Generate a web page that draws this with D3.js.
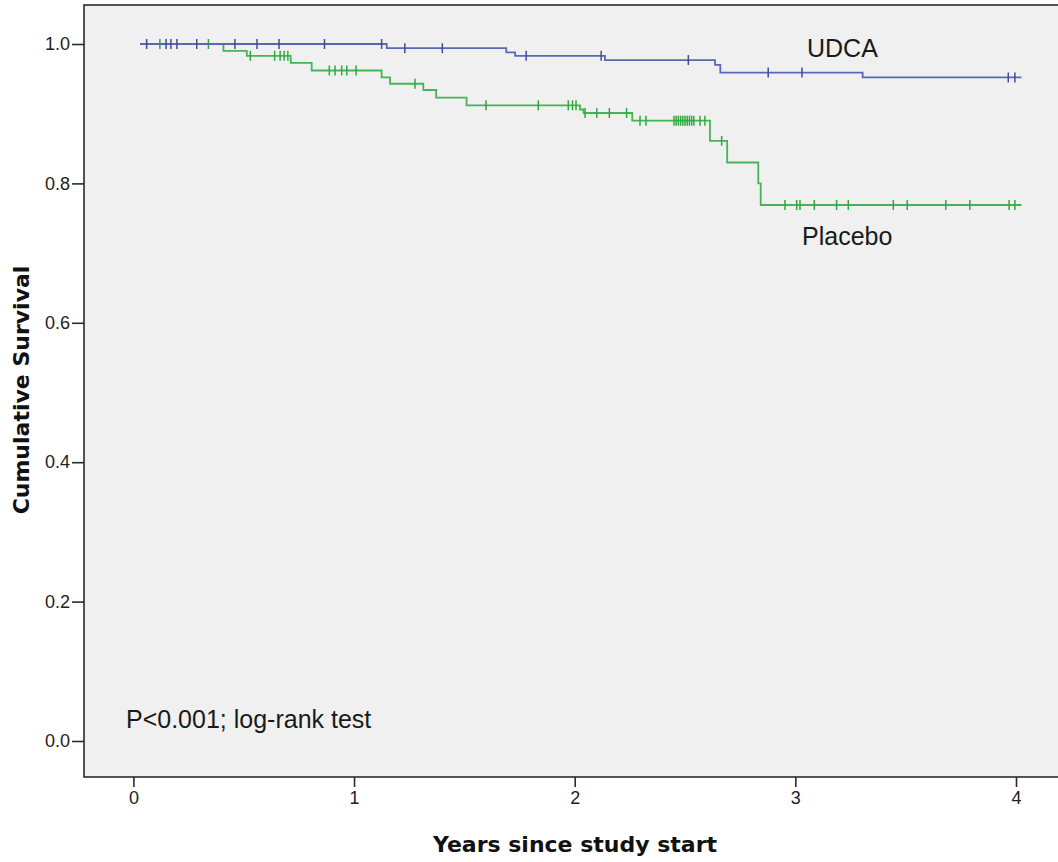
<!DOCTYPE html>
<html>
<head>
<meta charset="utf-8">
<script src="https://cdn.jsdelivr.net/npm/d3@7"></script>
<style>
  body { margin: 0; background: #fff; }
  svg { display: block; }
</style>
</head>
<body>
<div id="chart"></div>
<script>
// Kaplan-Meier steps: [time in years, survival after the drop]
var udcaStart = [0.03, 1.0];
var udcaSteps = [
  [1.148, 0.994], [1.69, 0.988], [1.73, 0.983], [2.137, 0.977],
  [2.636, 0.970], [2.66, 0.959], [3.305, 0.952]
];
var udcaEnd = 4.025;
var udcaCensored = [0.06, 0.148, 0.17, 0.197, 0.287, 0.46, 0.56, 0.66, 0.866,
  1.125, 1.23, 1.40, 1.78, 2.12, 2.515, 2.877, 3.03, 3.965, 3.995];

var placeboStart = [0.03, 1.0];
var placeboSteps = [
  [0.408, 0.990], [0.514, 0.983], [0.713, 0.973], [0.808, 0.962],
  [1.125, 0.952], [1.163, 0.943], [1.314, 0.934], [1.372, 0.923],
  [1.51, 0.912], [2.024, 0.906], [2.04, 0.901], [2.261, 0.890],
  [2.613, 0.861], [2.691, 0.830], [2.832, 0.800], [2.843, 0.769]
];
var placeboEnd = 4.025;
var placeboCensored = [0.12, 0.34, 0.53, 0.64, 0.665, 0.683, 0.70, 0.888, 0.914,
  0.944, 0.967, 1.009, 1.276, 1.598, 1.835, 1.971, 1.99, 2.006, 2.047, 2.10,
  2.157, 2.235, 2.296, 2.323, 2.45, 2.46, 2.47, 2.48, 2.49, 2.50, 2.51, 2.52,
  2.53, 2.54, 2.568, 2.59, 2.666, 2.953, 3.006, 3.021, 3.086, 3.187, 3.24,
  3.444, 3.507, 3.682, 3.791, 3.969, 3.995];

var xTicks = [0, 1, 2, 3, 4];
var yTicks = [0, 0.2, 0.4, 0.6, 0.8, 1.0];

var width = 1058, height = 862;
var frame = {left: 84, top: 5, bottom: 777};

var svg = d3.select('#chart').append('svg')
  .attr('width', width)
  .attr('height', height);

var x = d3.scaleLinear().domain([0, 4]).range([133.4, 1016]);
var y = d3.scaleLinear().domain([0, 1]).range([741, 44]);

// plot background
svg.append('rect')
  .attr('x', frame.left)
  .attr('y', frame.top)
  .attr('width', width + 20 - frame.left)
  .attr('height', frame.bottom - frame.top)
  .attr('fill', '#f0f0f0')
  .attr('stroke', '#2b2b2b')
  .attr('stroke-width', 1.6);

// turn step list into points of a survival curve
function kmPoints(start, steps, end) {
  var pts = [start];
  steps.forEach(function(s) { pts.push(s); });
  pts.push([end, steps[steps.length - 1][1]]);
  return pts;
}

// survival value at time t (value after any drop at t)
function survAt(start, steps, t) {
  var s = start[1];
  steps.forEach(function(d) { if (d[0] <= t) s = d[1]; });
  return s;
}

var line = d3.line()
  .x(d => x(d[0]))
  .y(d => y(d[1]))
  .curve(d3.curveStepAfter);

var groups = [
  {name: 'Placebo', start: placeboStart, steps: placeboSteps, end: placeboEnd,
   cens: placeboCensored, color: '#45b553', tick: '#2fa83f'},
  {name: 'UDCA', start: udcaStart, steps: udcaSteps, end: udcaEnd,
   cens: udcaCensored, color: '#5868b2', tick: '#3d4d9c'}
];

groups.forEach(function(g) {
  var pts = kmPoints(g.start, g.steps, g.end);
  svg.append('path')
    .attr('d', line(pts))
    .attr('fill', 'none')
    .attr('stroke', g.color)
    .attr('stroke-width', 1.8);

  svg.append('g').selectAll('line')
    .data(g.cens).enter()
    .append('line')
    .attr('x1', d => x(d))
    .attr('x2', d => x(d))
    .attr('y1', d => y(survAt(g.start, g.steps, d)) - 5)
    .attr('y2', d => y(survAt(g.start, g.steps, d)) + 5)
    .attr('stroke', g.tick)
    .attr('stroke-width', 1.5);
});

// axes
var yAxis = svg.append('g')
  .attr('transform', `translate(${frame.left},0)`)
  .call(d3.axisLeft(y).tickValues(yTicks).tickFormat(d3.format('.1f'))
    .tickSize(12).tickPadding(2));
var xAxis = svg.append('g')
  .attr('transform', `translate(0,${frame.bottom})`)
  .call(d3.axisBottom(x).tickValues(xTicks).tickFormat(d3.format('d'))
    .tickSize(10).tickPadding(4));

[xAxis, yAxis].forEach(function(a) {
  a.select('.domain').remove();
  a.selectAll('line').attr('stroke', '#2b2b2b').attr('stroke-width', 1.6);
  a.selectAll('text')
    .attr('fill', '#222')
    .style('font-family', 'Liberation Sans, Arial, sans-serif')
    .style('font-size', '18px');
});

// annotations
var annFont = 'Liberation Sans, Arial, sans-serif';
svg.append('text').attr('x', 807).attr('y', 57).text('UDCA')
  .style('font-family', annFont).style('font-size', '25px').attr('fill', '#1a1a1a');
svg.append('text').attr('x', 802).attr('y', 245).text('Placebo')
  .style('font-family', annFont).style('font-size', '25px').attr('fill', '#1a1a1a');
svg.append('text').attr('x', 126).attr('y', 728).text('P<0.001; log-rank test')
  .style('font-family', annFont).style('font-size', '25px').attr('fill', '#1a1a1a');

// axis titles
svg.append('text')
  .attr('x', 575).attr('y', 852)
  .attr('text-anchor', 'middle')
  .style('font-family', 'DejaVu Sans, sans-serif')
  .style('font-weight', 'bold')
  .style('font-size', '22px')
  .attr('fill', '#111')
  .text('Years since study start');

svg.append('text')
  .attr('transform', 'translate(29,390) rotate(-90)')
  .attr('text-anchor', 'middle')
  .style('font-family', 'DejaVu Sans, sans-serif')
  .style('font-weight', 'bold')
  .style('font-size', '22px')
  .attr('fill', '#111')
  .text('Cumulative Survival');
</script>
</body>
</html>
